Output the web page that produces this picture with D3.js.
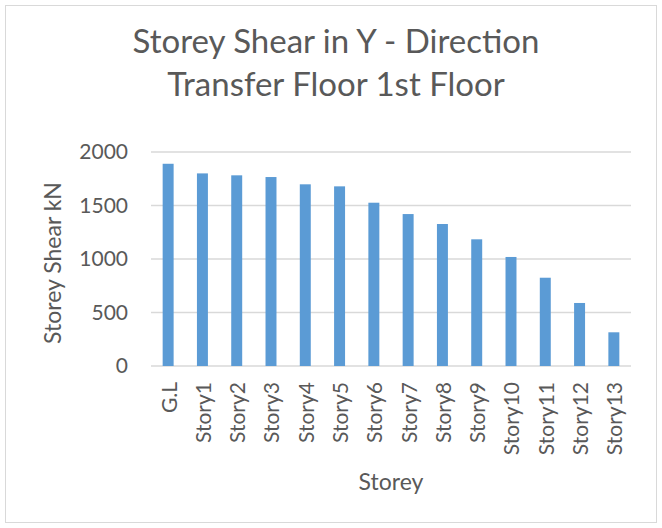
<!DOCTYPE html>
<html>
<head>
<meta charset="utf-8">
<script src="https://cdn.jsdelivr.net/npm/d3@7"></script>
<style>
  body { margin: 0; background: #fff; }
  text { font-family: Lato, "Open Sans", sans-serif; fill: #595959; }
</style>
</head>
<body>
<div id="chart"></div>
<script>
const storeys = ['G.L', 'Story1', 'Story2', 'Story3', 'Story4', 'Story5', 'Story6',
  'Story7', 'Story8', 'Story9', 'Story10', 'Story11', 'Story12', 'Story13'];
const shear = [1890, 1800, 1782, 1766, 1698, 1679, 1526, 1420, 1327, 1184, 1019, 825, 589, 315];
const yTicks = [0, 500, 1000, 1500, 2000];
const titleLines = ['Storey Shear in Y - Direction', 'Transfer Floor 1st Floor'];

const W = 662, H = 528;
const MARGIN = {top: 152, right: 31, bottom: 162, left: 151};
const width = W - MARGIN.left - MARGIN.right;
const height = H - MARGIN.top - MARGIN.bottom;

const root = d3.select('#chart').append('svg')
  .attr('width', W)
  .attr('height', H);

root.append('rect')
  .attr('x', 5.5).attr('y', 5.5)
  .attr('width', W - 11).attr('height', H - 11)
  .attr('fill', '#fff')
  .attr('stroke', '#d9d9d9');

root.append('text')
  .attr('text-anchor', 'middle')
  .attr('font-size', 33)
  .selectAll('tspan')
  .data(titleLines)
  .join('tspan')
  .attr('x', 336)
  .attr('y', (d, i) => 53 + i * 43)
  .text(d => d);

const svg = root.append('g')
  .attr('transform', 'translate(' + MARGIN.left + ',' + MARGIN.top + ')');

const x = d3.scaleBand()
  .domain(storeys)
  .range([0, width])
  .paddingInner(0.68)
  .paddingOuter(0.34);

const y = d3.scaleLinear()
  .domain([0, 2000])
  .range([height, 0]);

// gridlines
svg.append('g')
  .selectAll('line')
  .data(yTicks)
  .join('line')
  .attr('x1', 0)
  .attr('x2', width)
  .attr('y1', d => y(d))
  .attr('y2', d => y(d))
  .attr('stroke', '#d9d9d9')
  .attr('stroke-width', 1.3);

svg.append('g')
  .selectAll('rect')
  .data(shear)
  .join('rect')
  .attr('x', (d, i) => x(storeys[i]))
  .attr('y', d => y(d))
  .attr('width', x.bandwidth())
  .attr('height', d => height - y(d))
  .attr('fill', '#5b9bd5');

const yAxis = d3.axisLeft(y)
  .tickValues(yTicks)
  .tickFormat(d3.format('d'))
  .tickSize(0)
  .tickPadding(23);

const ya = svg.append('g')
  .attr('class', 'y-axis')
  .call(yAxis);
ya.select('.domain').remove();
ya.selectAll('text')
  .attr('font-size', 21)
  .attr('font-family', null)
  .attr('fill', null);

const xAxis = d3.axisBottom(x).tickSize(0);
const xa = svg.append('g')
  .attr('class', 'x-axis')
  .attr('transform', 'translate(0,' + height + ')')
  .call(xAxis);
xa.select('.domain').remove();
xa.selectAll('text')
  .attr('font-size', 21)
  .attr('font-family', null)
  .attr('fill', null)
  .attr('text-anchor', 'end')
  .attr('transform', 'rotate(-90)')
  .attr('x', -16)
  .attr('y', 1)
  .attr('dy', '0.35em');

root.append('text')
  .attr('x', 391)
  .attr('y', 490)
  .attr('text-anchor', 'middle')
  .attr('font-size', 23)
  .text('Storey');

root.append('text')
  .attr('transform', 'translate(61,263) rotate(-90)')
  .attr('text-anchor', 'middle')
  .attr('font-size', 23)
  .text('Storey Shear kN');
</script>
</body>
</html>
